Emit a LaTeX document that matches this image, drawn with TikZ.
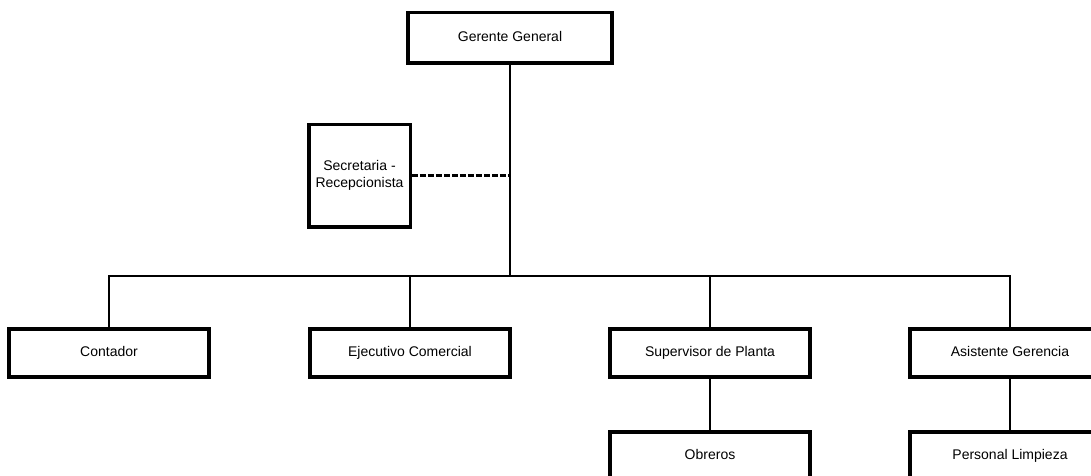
\documentclass[tikz,border=0pt]{standalone}
\usepackage{fontspec}
\setmainfont{Liberation Sans}
\begin{document}
\begin{tikzpicture}[x=0.75pt, y=-0.75pt,
        cargo/.style={draw=black, line width=2.5pt, fill=white, minimum width=150pt, minimum height=36pt, inner sep=0pt, text height=7.6pt, text depth=2pt, font=\fontsize{10.5}{12.75}\selectfont},
        linea/.style={black, line width=1.6pt}]
                \useasboundingbox (0,0) rectangle (1091,475);
                \node[cargo, minimum width=153pt, minimum height=38pt] (gerente) at (510,37.5) {Gerente General};
                \node[cargo, minimum width=76pt, minimum height=77pt, align=center, text height=, text depth=] (secretaria) at (359.5,175.5) {Secretaria -\\Recepcionista};
                \coordinate (bus) at (510,276);
                \node[cargo] (contador) at (109,353) {Contador};
                \node[cargo] (ejecutivo) at (410,353) {Ejecutivo Comercial};
                \node[cargo] (supervisor) at (710,353) {Supervisor de Planta};
                \node[cargo] (asistente) at (1010,353) {Asistente Gerencia};
                \node[cargo] (obreros) at (710,456) {Obreros};
                \node[cargo] (limpieza) at (1010,456) {Personal Limpieza};
                % lineas
                \draw[linea] (gerente) -- (bus);
                \draw[linea, dash pattern=on 4.5pt off 1.5pt] (secretaria.east) -- (secretaria.east -| bus);
                \draw[linea] (bus) -| (contador.north);
                \draw[linea] (bus) -| (ejecutivo.north);
                \draw[linea] (bus) -| (supervisor.north);
                \draw[linea] (bus) -| (asistente.north);
                \draw[linea] (supervisor) -- (obreros);
                \draw[linea] (asistente) -- (limpieza);
            \end{tikzpicture}
\end{document}
